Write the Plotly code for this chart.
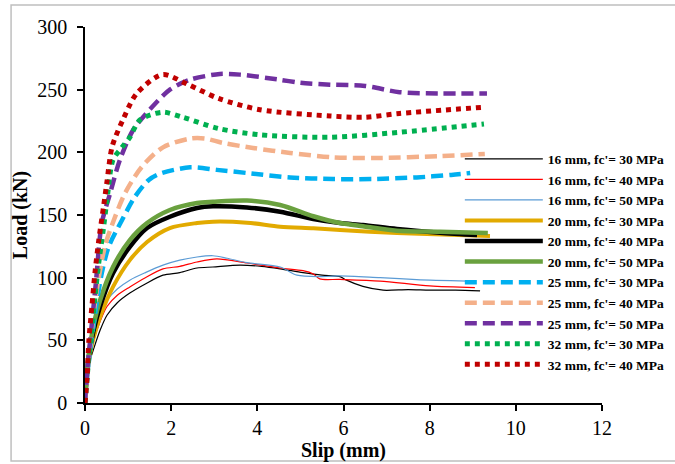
import plotly.graph_objects as go

# ---------------- data (slip in mm, load in kN) ----------------
s16_30_x = [0, 0.03, 0.08, 0.19, 0.35, 0.51, 0.75, 1.04, 1.4, 1.81, 2.2, 2.6, 2.97, 3.6, 4.1, 4.53, 5.06, 5.5, 5.92, 6.07, 6.45, 6.92, 7.5, 8.0, 8.6, 9.17]
s16_30_y = [0, 15, 30, 42, 58, 70, 80, 87.7, 95, 102, 104, 107.7, 108.5, 110, 109, 107, 104, 102, 100.8, 98, 93, 90, 90.5, 90, 90, 89.4]

s16_40_x = [0, 0.03, 0.08, 0.19, 0.35, 0.51, 0.75, 1.04, 1.4, 1.81, 2.2, 2.6, 3.06, 3.76, 4.53, 5.06, 5.3, 5.45, 5.92, 6.85, 8.0, 9.05]
s16_40_y = [0, 16, 32, 48.6, 65, 77, 86, 92.6, 100, 107, 109, 112.5, 115, 111.7, 107.7, 105.6, 103, 99, 98.6, 97.3, 93.4, 92]

s16_50_x = [0, 0.03, 0.08, 0.19, 0.35, 0.51, 0.75, 1.04, 1.4, 1.81, 2.2, 2.6, 2.97, 3.3, 3.76, 4.53, 4.92, 5.45, 5.92, 6.85, 7.7, 8.9]
s16_50_y = [0, 17, 34, 52.6, 70, 82, 91, 98, 104, 110, 114, 116.5, 117.5, 115.5, 112, 108.5, 102, 100.8, 101.5, 100, 98.5, 97.3]

s20_30_x = [0, 0.03, 0.08, 0.2, 0.35, 0.65, 1.04, 1.44, 1.97, 2.6, 2.97, 3.76, 4.53, 5.3, 5.92, 7.24, 8.3, 9.4]
s20_30_y = [0, 15, 32, 52, 68.6, 92.6, 114, 128.5, 139.6, 143.6, 144.7, 143.9, 140.7, 139.4, 138, 135.6, 134.5, 133.2]

s20_40_x = [0, 0.03, 0.08, 0.2, 0.35, 0.65, 1.04, 1.44, 1.97, 2.6, 2.97, 3.76, 4.53, 5.3, 5.92, 6.45, 7.24, 8.24, 9.1]
s20_40_y = [0, 16, 35, 58, 77, 103.6, 124.5, 139.6, 148.6, 155.6, 157, 156, 152.6, 146.8, 143.6, 142, 138.8, 135.9, 134]

s20_50_x = [0, 0.03, 0.08, 0.2, 0.35, 0.65, 1.04, 1.44, 1.97, 2.6, 2.97, 3.76, 4.53, 5.3, 5.92, 6.45, 7.24, 8.24, 9.35]
s20_50_y = [0, 17, 37, 62, 82, 108.5, 130, 143.6, 154, 159.6, 160.5, 161.5, 158, 149, 143.6, 141, 137.5, 136.7, 135.6]

s25_30_x = [0, 0.05, 0.12, 0.25, 0.39, 0.55, 0.86, 1.16, 1.48, 1.74, 2.44, 3.06, 3.76, 4.76, 5.76, 6.68, 7.7, 8.5, 8.94]
s25_30_y = [0, 20, 42, 75, 103.6, 124.7, 146, 164.6, 178, 183, 188, 186, 183.5, 180, 178.7, 178.7, 180, 182, 183.5]

s25_40_x = [0, 0.05, 0.12, 0.25, 0.46, 0.67, 0.93, 1.32, 1.81, 2.44, 2.79, 3.2, 3.9, 4.76, 5.76, 6.78, 8.24, 9.28]
s25_40_y = [0, 22, 46, 85, 124.7, 146, 167.5, 188.5, 204, 211, 211, 207.5, 203.5, 199.5, 196, 195.5, 197, 198.7]

s25_50_x = [0, 0.05, 0.12, 0.25, 0.39, 0.58, 0.81, 1.12, 1.5, 1.97, 2.44, 3.13, 3.6, 4.5, 5.0, 5.69, 6.5, 7.3, 8.2, 9.33]
s25_50_y = [0, 25, 50, 95, 143.6, 167, 194, 218, 234, 250, 258, 262.5, 262, 258, 255.5, 254, 253, 248, 247, 247]

s32_30_x = [0, 0.05, 0.1, 0.16, 0.23, 0.32, 0.43, 0.51, 0.65, 0.86, 1.04, 1.28, 1.8, 2.27, 3.1, 4.06, 5.69, 7.3, 9.26]
s32_30_y = [0, 21, 40, 58, 84, 112, 140, 162, 194, 204, 212, 226, 232, 228, 219, 214, 212, 216, 222.6]

s32_40_x = [0, 0.05, 0.09, 0.16, 0.23, 0.32, 0.43, 0.51, 0.63, 0.88, 1.2, 1.8, 2.37, 3.1, 4.06, 5.69, 6.5, 7.3, 9.26]
s32_40_y = [0, 21, 50, 77, 103.6, 130, 156.6, 176.6, 204.5, 226, 247, 262, 254.5, 243, 234, 229, 228, 231, 236]

series_names = [
    "16 mm, fc'= 30 MPa", "16 mm, fc'= 40 MPa", "16 mm, fc'= 50 MPa",
    "20 mm, fc'= 30 MPa", "20 mm, fc'= 40 MPa", "20 mm, fc'= 50 MPa",
    "25 mm, fc'= 30 MPa", "25 mm, fc'= 40 MPa", "25 mm, fc'= 50 MPa",
    "32 mm, fc'= 30 MPa", "32 mm, fc'= 40 MPa",
]
series_x = [s16_30_x, s16_40_x, s16_50_x, s20_30_x, s20_40_x, s20_50_x,
            s25_30_x, s25_40_x, s25_50_x, s32_30_x, s32_40_x]
series_y = [s16_30_y, s16_40_y, s16_50_y, s20_30_y, s20_40_y, s20_50_y,
            s25_30_y, s25_40_y, s25_50_y, s32_30_y, s32_40_y]

x_ticks = [0, 2, 4, 6, 8, 10, 12]
y_ticks = [0, 50, 100, 150, 200, 250, 300]

# ---------------- styles ----------------
colors = ["#000000", "#FF0000", "#5B9BD5", "#E2AA00", "#000000", "#6AA13F",
          "#00B0F0", "#F4B08A", "#7030A0", "#00B050", "#C00000"]
widths = [1.2, 1.2, 1.2, 4, 4.5, 4.5, 4.5, 4.5, 4.5, 5, 5]
dashes = ["solid", "solid", "solid", "solid", "solid", "solid",
          "12px,6px", "12px,6px", "12px,6px", "5px,5px", "5px,5px"]

fig = go.Figure()
for name, xs, ys, c, w, d in zip(series_names, series_x, series_y, colors, widths, dashes):
    fig.add_trace(go.Scatter(
        x=xs, y=ys, name=name, mode="lines",
        line=dict(color=c, width=w, dash=d, shape="spline", smoothing=0.8),
    ))

serif = "Liberation Serif"
fig.update_layout(
    width=675, height=464,
    margin=dict(l=85, r=73, t=27, b=61, autoexpand=False),
    paper_bgcolor="white", plot_bgcolor="white",
    font=dict(family=serif, color="black"),
    showlegend=True,
    legend=dict(
        x=0.725, y=0.69, xanchor="left", yanchor="top",
        bgcolor="rgba(0,0,0,0)",
        font=dict(family=serif, size=13.5, color="black", weight="bold"),
        itemwidth=78, tracegroupgap=0,
    ),
    xaxis=dict(
        range=[0, 12], tickvals=x_ticks, showgrid=False, zeroline=False,
        showline=True, linecolor="black", linewidth=1.5,
        ticks="outside", ticklen=6, tickwidth=1.5, tickcolor="black",
        tickfont=dict(family=serif, size=20, color="black"),
        title=dict(text="Slip (mm)", font=dict(family=serif, size=20, color="black", weight="bold"), standoff=2),
    ),
    yaxis=dict(
        range=[0, 300], tickvals=y_ticks, showgrid=False, zeroline=False,
        showline=True, linecolor="black", linewidth=1.5,
        ticks="outside", ticklen=6, tickwidth=1.5, tickcolor="black",
        ticklabelstandoff=6,
        tickfont=dict(family=serif, size=20, color="black"),
        title=dict(text="Load (kN)", font=dict(family=serif, size=20, color="black", weight="bold"), standoff=4),
    ),
    shapes=[dict(type="rect", xref="paper", yref="paper",
                 x0=-0.143, x1=1.16, y0=-0.154, y1=1.0585,
                 line=dict(color="#BFBFBF", width=1.5), fillcolor="rgba(0,0,0,0)", layer="below")],
)

fig.write_html("out.html",
               config={"displayModeBar": False},
               post_script="document.body.style.margin='0';document.body.style.overflow='hidden';")
